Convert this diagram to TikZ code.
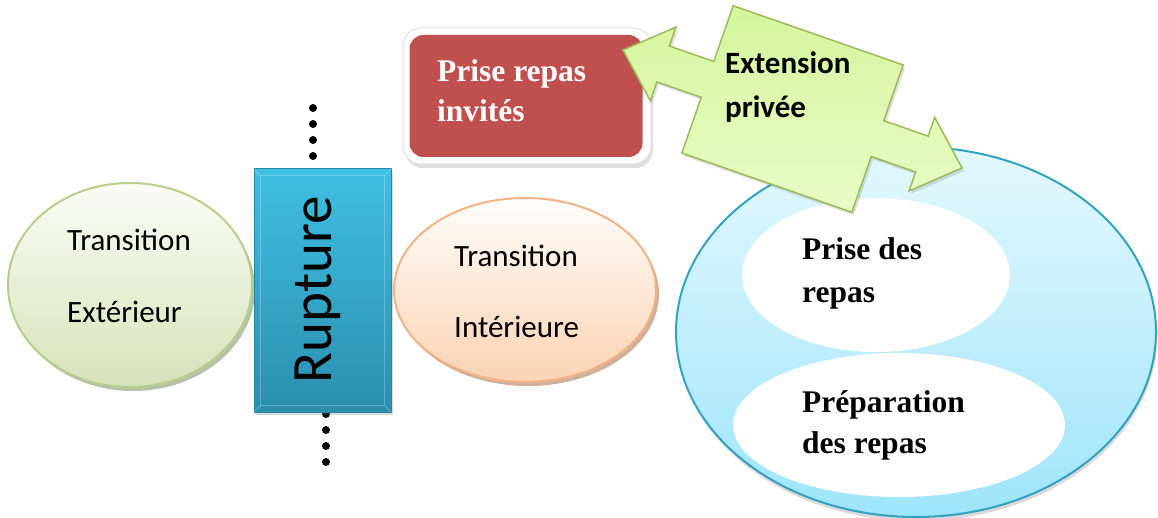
\documentclass[tikz,border=0pt]{standalone}
\usepackage{fontspec}
\setmainfont{Liberation Serif}
\newfontfamily\calib{Carlito}
\usetikzlibrary{shapes.geometric,shadows}
\definecolor{grnTop}{HTML}{FBFCF6}
\definecolor{grnBot}{HTML}{D6E3BA}
\definecolor{grnLine}{HTML}{B7CE8C}
\definecolor{orTop}{HTML}{FFFDFB}
\definecolor{orBot}{HTML}{FAD3B2}
\definecolor{orLine}{HTML}{F3B285}
\definecolor{orShadow}{HTML}{B98F70}
\definecolor{grShadow}{HTML}{9AA583}
\definecolor{redFill}{HTML}{C0504D}
\definecolor{ruptTop}{HTML}{3EC0E4}
\definecolor{ruptBot}{HTML}{2C8EAD}
\definecolor{ruptLine}{HTML}{2A86A3}
\definecolor{arrTop}{HTML}{D5F59E}
\definecolor{arrBot}{HTML}{E9FCC6}
\definecolor{arrLine}{HTML}{9BBB59}
\definecolor{bluTop}{HTML}{E4F8FE}
\definecolor{bluBot}{HTML}{9EE5FA}
\definecolor{bluLine}{HTML}{33A2C2}
\begin{document}
\begin{tikzpicture}[x=1pt,y=-1pt,
  sanstxt/.style={font=\calib\fontsize{31}{40}\selectfont, anchor=base west, inner sep=0pt, text=black},
  sansbold/.style={font=\calib\bfseries\fontsize{31}{40}\selectfont, anchor=base west, inner sep=0pt, text=black},
  seriftxt/.style={font=\bfseries\fontsize{31.5}{40}\selectfont, anchor=base west, inner sep=0pt},
  dotmark/.style={circle, fill=black, inner sep=0pt, minimum size=8pt},
  ovalshape/.style={ellipse, inner sep=0pt, line width=2pt}
]
\useasboundingbox (0,0) rectangle (1158,518);

% dotted rupture line
\foreach \k/\yy in {1/108,2/124,3/140,4/156,5/172}
  \node[dotmark] (dtop\k) at (313,\yy) {};
\foreach \k/\yy in {1/414,2/430,3/446,4/462}
  \node[dotmark] (dbot\k) at (326,\yy) {};

% left ellipse
\node[ovalshape, minimum width=244pt, minimum height=204pt, draw=grnLine,
  top color=grnTop, bottom color=grnBot,
  drop shadow={shadow xshift=3pt, shadow yshift=-4pt, fill=grShadow, opacity=0.7}]
  (ext) at (130,285) {};
\node[sanstxt] (extA) at (67,251) {Transition};
\node[sanstxt] (extB) at (67,323) {Extérieur};

% middle ellipse
\node[ovalshape, minimum width=262pt, minimum height=184pt, draw=orLine,
  top color=orTop, bottom color=orBot,
  drop shadow={shadow xshift=3pt, shadow yshift=-4pt, fill=orShadow, opacity=0.7}]
  (int) at (525,290) {};
\node[sanstxt] (intA) at (454,267) {Transition};
\node[sanstxt] (intB) at (454,337) {Intérieure};

% rupture block
\node[rectangle, minimum width=137pt, minimum height=243pt, inner sep=0pt,
  top color=ruptTop, bottom color=ruptBot, draw=ruptLine, line width=1pt,
  drop shadow={shadow xshift=2pt, shadow yshift=-3pt, opacity=0.3}]
  (rupt) at (322.5,290.5) {};
\draw[white, opacity=0.25, line width=0.8pt]
  ([xshift=7pt,yshift=-7pt]rupt.north west) rectangle ([xshift=-7pt,yshift=7pt]rupt.south east);
\draw[white, opacity=0.25, line width=0.8pt]
  (rupt.north west) -- ([xshift=7pt,yshift=-7pt]rupt.north west)
  (rupt.north east) -- ([xshift=-7pt,yshift=-7pt]rupt.north east)
  (rupt.south west) -- ([xshift=7pt,yshift=7pt]rupt.south west)
  (rupt.south east) -- ([xshift=-7pt,yshift=7pt]rupt.south east);
\node[rotate=90, anchor=base, inner sep=0pt, font=\calib\fontsize{57}{60}\selectfont]
  (rupttxt) at (331,290) {Rupture};

% big blue ellipse
\node[ovalshape, minimum width=480pt, minimum height=370pt, draw=bluLine,
  top color=bluTop, bottom color=bluBot,
  drop shadow={shadow xshift=1pt, shadow yshift=-4pt, opacity=0.3}]
  (priv) at (916,332) {};
\node[ellipse, fill=white, minimum width=268pt, minimum height=154pt, inner sep=0pt]
  (prise) at (876,275) {};
\node[ellipse, fill=white, minimum width=332pt, minimum height=144pt, inner sep=0pt]
  (prep) at (899,425) {};
\node[seriftxt] (priseA) at (802,260) {Prise des};
\node[seriftxt] (priseB) at (802,303) {repas};
\node[seriftxt] (prepA) at (802,412) {Préparation};
\node[seriftxt] (prepB) at (802,453) {des repas};

% red box with white frame
\node[rectangle, rounded corners=18pt, fill=white, draw=black!12, line width=1pt,
  minimum width=248pt, minimum height=136pt, inner sep=0pt,
  drop shadow={shadow xshift=2pt, shadow yshift=-4pt, opacity=0.25}]
  (invframe) at (527,96) {};
\node[rectangle, rounded corners=14pt, fill=redFill,
  minimum width=233pt, minimum height=122pt, inner sep=0pt]
  (inv) at (526,96) {};
\node[seriftxt, text=white] (invA) at (437,82) {Prise repas};
\node[seriftxt, text=white] (invB) at (437,122) {invités};

% double arrow callout
\begin{scope}[shift={(792.5,109)}, rotate=-19.2]
\draw[draw=arrLine, line width=1.5pt, line join=miter, top color=arrTop, bottom color=arrBot,
  drop shadow={shadow xshift=2pt, shadow yshift=-3pt, opacity=0.25}]
  (-179.5,0) -- (-137,-39) -- (-137,-19) -- (-90,-19) -- (-90,-78) -- (90,-78)
  -- (90,-19) -- (137,-19) -- (137,-39) -- (179.5,0) -- (137,39) -- (137,19)
  -- (90,19) -- (90,78) -- (-90,78) -- (-90,19) -- (-137,19) -- (-137,39) -- cycle;
\end{scope}
\node[sansbold] (extnA) at (725,74) {Extension};
\node[sansbold] (extnB) at (725,118) {privée};
\end{tikzpicture}
\end{document}
